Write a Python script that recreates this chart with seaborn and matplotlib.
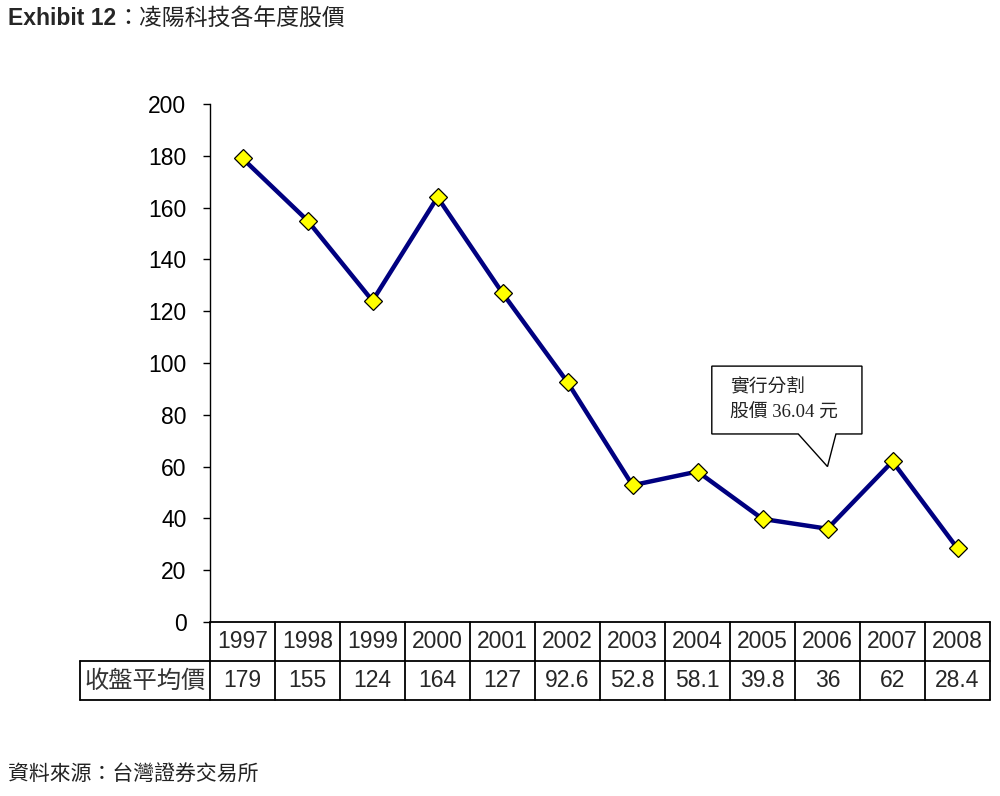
import numpy as np
import pandas as pd
import seaborn as sns
import matplotlib.pyplot as plt
from matplotlib.patches import Polygon

# data
years = [1997, 1998, 1999, 2000, 2001, 2002, 2003, 2004, 2005, 2006, 2007, 2008]
price = [179, 155, 124, 164, 127, 92.6, 52.8, 58.1, 39.8, 36, 62, 28.4]
price_txt = ["179", "155", "124", "164", "127", "92.6", "52.8", "58.1", "39.8", "36", "62", "28.4"]
row_label = "收盤平均價"
title_en = "Exhibit 12"
title_zh = "：凌陽科技各年度股價"
note_lines = ["實行分割", "股價 36.04 元"]
source = "資料來源：台灣證券交易所"

sns.set_theme(style="white")
plt.rcParams['font.family'] = ['Liberation Sans', 'Noto Sans CJK TC', 'DejaVu Sans']
CJK = ['Noto Sans CJK TC', 'DejaVu Sans']

df = pd.DataFrame({"year": years, "price": price})

fig = plt.figure(figsize=(10, 7.96), dpi=100)
ax = fig.add_axes([0.21, 1 - 622 / 796, 0.78, 518 / 796])

sns.lineplot(data=df, x="year", y="price", ax=ax, color="#000080", linewidth=3.2,
             marker="D", markersize=9.5, markerfacecolor="#FFFF00",
             markeredgecolor="black", markeredgewidth=0.9)

ax.set_xlim(years[0] - 0.5, years[-1] + 0.5)
ax.set_ylim(0, 200)
ax.set_yticks(np.arange(0, 201, 20))
ax.set_xticks([])
ax.set_xlabel("")
ax.set_ylabel("")
for s in ["top", "right", "bottom"]:
    ax.spines[s].set_visible(False)
ax.spines["left"].set_color("black")
ax.spines["left"].set_linewidth(1)
ax.tick_params(axis="y", left=True, direction="out", length=5, width=1,
               color="black", pad=12, labelsize=16.5, labelcolor="black")

# callout for 2006 split
i06 = years.index(2006)
tx, ty = years[i06], price[i06] + 24
box = [(tx - 1.78, 98.8), (tx + 0.53, 98.8), (tx + 0.53, 72.6), (tx + 0.13, 72.6),
       (tx, ty), (tx - 0.45, 72.6), (tx - 1.78, 72.6)]
ax.add_patch(Polygon(box, closed=True, facecolor="white", edgecolor="black",
                     linewidth=1, zorder=5))
ax.text(tx - 1.5, 90.3, note_lines[0], fontsize=13.5, va="center", ha="left",
        family=['Liberation Serif', 'Noto Sans CJK TC'], color="#222222", zorder=6)
ax.text(tx - 1.5, 80.7, note_lines[1], fontsize=13.5, va="center", ha="left",
        family=['Liberation Serif', 'Noto Sans CJK TC'], color="#222222", zorder=6)

# data table below
tab = fig.add_axes([0.08, 1 - 700 / 796, 0.91, 78 / 796])
tab.set_xlim(years[0] - 2.5, years[-1] + 0.5)
tab.set_ylim(0, 2)
tab.axis("off")
lw = 1.3
x0, x1 = years[0] - 0.5, years[-1] + 0.5
tab.plot([x0, x1], [2, 2], color="black", lw=lw, clip_on=False)
tab.plot([years[0] - 2.5, x1], [1, 1], color="black", lw=lw, clip_on=False)
tab.plot([years[0] - 2.5, x1], [0, 0], color="black", lw=lw, clip_on=False)
tab.plot([years[0] - 2.5] * 2, [0, 1], color="black", lw=lw, clip_on=False)
for k in range(len(years) + 1):
    xv = years[0] - 0.5 + k
    tab.plot([xv, xv], [0, 2], color="black", lw=lw, clip_on=False)
for yr, pt in zip(years, price_txt):
    tab.text(yr, 1.5, str(yr), ha="center", va="center", fontsize=16.5)
    tab.text(yr, 0.5, pt, ha="center", va="center", fontsize=16.5)
tab.text(years[0] - 1.5, 0.5, row_label, ha="center", va="center", fontsize=17.5,
         family=CJK, weight="light", color="#333333")

# title and source
t = fig.text(0.008, 0.977, title_en, fontsize=16.5, weight="bold", va="center", ha="left")
ax.annotate(title_zh, xy=(1, 0.5), xycoords=t, va="center", ha="left",
            fontsize=16.5, family=CJK, color="#222222", annotation_clip=False)
fig.text(0.008, 1 - 775 / 796, source, fontsize=15, family=CJK, color="#222222",
         va="center", ha="left")

fig.savefig("out.png", dpi=100, facecolor="white")
